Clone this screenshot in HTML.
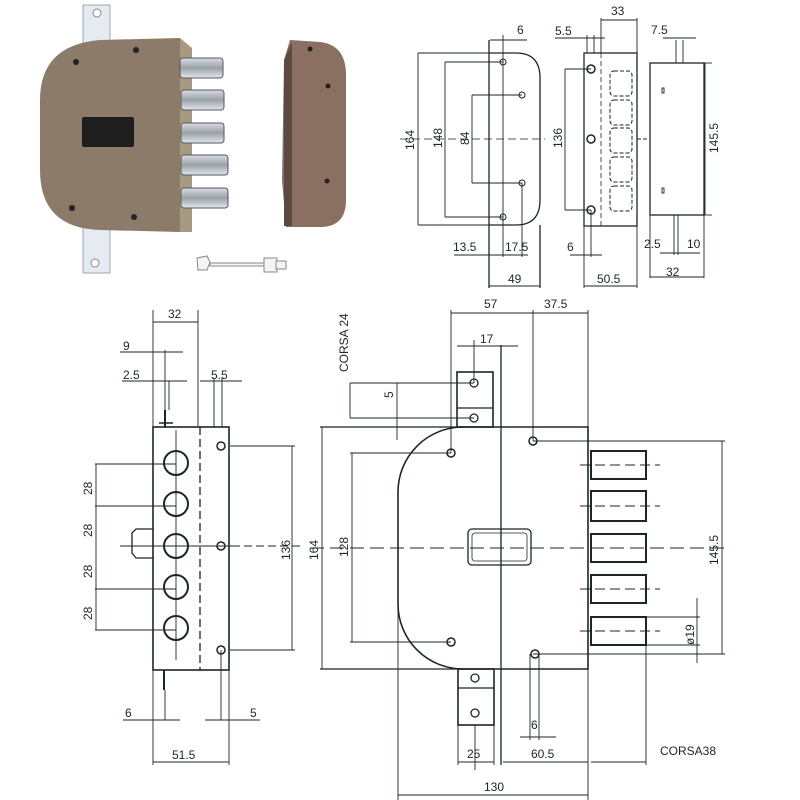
<!DOCTYPE html>
<html><head><meta charset="utf-8"><style>
html,body{margin:0;padding:0;background:#fff}
svg{display:block}
text{font-family:"Liberation Sans",sans-serif;fill:#1c2626;font-size:12px}
</style></head><body>
<svg width="800" height="800" viewBox="0 0 800 800" xmlns="http://www.w3.org/2000/svg">
<defs>
<linearGradient id="bolt" x1="0" y1="0" x2="0" y2="1"><stop offset="0" stop-color="#d8dde2"/><stop offset="0.5" stop-color="#9aa2a8"/><stop offset="1" stop-color="#e4e8ec"/></linearGradient>
</defs>
<!-- PHOTO -->
<rect x="83" y="5" width="27" height="268" fill="#e6eaf2" stroke="#9aa" stroke-width="1"/>
<circle cx="97" cy="13" r="4" fill="#fff" stroke="#888"/>
<circle cx="95" cy="263" r="4" fill="#fff" stroke="#888"/>
<path d="M180 38 L192 48 L192 232 L180 232 Z" fill="#a89a80"/>
<path d="M100 40 L180 38 L180 232 L100 230 Q40 228 40 170 L40 100 Q40 45 100 40 Z" fill="#8c7b68"/>
<g fill="url(#bolt)" stroke="#556" stroke-width="1">
<rect x="180" y="58" width="43" height="20" rx="3"/>
<rect x="181" y="90" width="43" height="20" rx="3"/>
<rect x="181" y="123" width="43" height="20" rx="3"/>
<rect x="181" y="155" width="47" height="20" rx="3"/>
<rect x="181" y="188" width="47" height="20" rx="3"/>
</g>
<rect x="82" y="117" width="52" height="30" fill="#1e1e1e" rx="2"/>
<g fill="#222"><circle cx="76" cy="62" r="3"/><circle cx="136" cy="50" r="3"/><circle cx="72" cy="208" r="3"/><circle cx="134" cy="217" r="3"/></g>
<path d="M290 40 L320 42 Q346 45 346 75 L346 200 Q346 227 320 227 L286 227 L282 180 L284 60 Z" fill="#8a7060"/>
<path d="M284 60 L292 42 L292 226 L284 226 Z" fill="#5a4a40"/>
<g fill="#222"><circle cx="310" cy="49" r="2.5"/><circle cx="328" cy="86" r="2.5"/><circle cx="327" cy="181" r="2.5"/></g>
<!-- key -->
<g stroke="#888" fill="#f4f4f4"><path d="M197 258 L207 256 L210 262 L207 270 L198 270 Z"/><rect x="210" y="263" width="58" height="3"/><rect x="264" y="258" width="13" height="14"/><rect x="276" y="261" width="10" height="8"/></g>

<g stroke="#1c2626" fill="none" stroke-width="1.3">
<!-- TOP VIEW A -->
<path d="M489 53 L516 53 Q540 53 540 78 L540 200 Q540 225 516 225 L489 225"/>
<line x1="489" y1="40" x2="489" y2="288"/>
<line x1="540" y1="225" x2="540" y2="288"/>
<line x1="400" y1="139" x2="545" y2="139" stroke-dasharray="8 4" stroke-width="0.8"/>
<g stroke-width="0.9">
<line x1="418" y1="53" x2="489" y2="53"/><line x1="418" y1="225" x2="489" y2="225"/><line x1="418" y1="53" x2="418" y2="225"/>
<line x1="445" y1="62" x2="503" y2="62"/><line x1="445" y1="217" x2="503" y2="217"/><line x1="445" y1="62" x2="445" y2="217"/>
<line x1="472" y1="95" x2="522" y2="95"/><line x1="472" y1="183" x2="522" y2="183"/><line x1="472" y1="95" x2="472" y2="183"/>
<line x1="503" y1="62" x2="503" y2="257"/><line x1="522" y1="183" x2="522" y2="257"/>
<line x1="454" y1="255" x2="528" y2="255"/>
<line x1="489" y1="286" x2="540" y2="286"/>
<line x1="490" y1="40" x2="527" y2="40"/><line x1="503" y1="35" x2="503" y2="62"/>
</g>
<g stroke-width="1"><circle cx="503" cy="62" r="3"/><circle cx="522" cy="95" r="3"/><circle cx="522" cy="183" r="3"/><circle cx="503" cy="217" r="3"/></g>
<!-- VIEW B -->
<rect x="584" y="53" width="53" height="173"/>
<line x1="601" y1="53" x2="601" y2="226" stroke-dasharray="5 3" stroke-width="0.8"/>
<g stroke-width="1.5"><circle cx="591" cy="69" r="4"/><circle cx="591" cy="139" r="4"/><circle cx="591" cy="210" r="4"/></g>
<g stroke-dasharray="4 2" stroke-width="1"><rect x="610" y="71" width="22" height="25" rx="4"/><rect x="610" y="100" width="22" height="25" rx="4"/><rect x="610" y="128" width="22" height="25" rx="4"/><rect x="610" y="157" width="22" height="25" rx="4"/><rect x="610" y="186" width="22" height="25" rx="4"/></g>
<g stroke-width="0.9">
<line x1="565" y1="69" x2="591" y2="69"/><line x1="565" y1="210" x2="591" y2="210"/><line x1="565" y1="69" x2="565" y2="210"/>
<line x1="584" y1="226" x2="584" y2="288"/><line x1="637" y1="226" x2="637" y2="288"/><line x1="584" y1="286" x2="637" y2="286"/>
<line x1="591" y1="210" x2="591" y2="257"/><line x1="570" y1="255" x2="602" y2="255"/>
<line x1="601" y1="18" x2="601" y2="53"/><line x1="637" y1="18" x2="637" y2="53"/><line x1="601" y1="20" x2="637" y2="20"/>
<line x1="555" y1="38" x2="605" y2="38"/><line x1="587" y1="35" x2="587" y2="53"/><line x1="594" y1="35" x2="594" y2="53"/>
<line x1="637" y1="139" x2="648" y2="139" stroke-dasharray="4 2"/>
</g>
<!-- VIEW C -->
<rect x="650" y="63" width="54" height="152"/>
<g stroke-width="0.9">
<line x1="676" y1="40" x2="676" y2="63"/><line x1="683" y1="40" x2="683" y2="63"/>
<line x1="663" y1="38" x2="696" y2="38"/>
<line x1="674" y1="215" x2="674" y2="255"/><line x1="678" y1="215" x2="678" y2="255"/>
<line x1="660" y1="253" x2="700" y2="253"/>
<line x1="650" y1="215" x2="650" y2="278"/><line x1="704" y1="215" x2="704" y2="278"/><line x1="650" y1="277" x2="704" y2="277"/>
<line x1="704" y1="63" x2="712" y2="63"/><line x1="704" y1="215" x2="712" y2="215"/><line x1="705" y1="63" x2="705" y2="215"/>
<rect x="662" y="88" width="2" height="5"/><rect x="662" y="188" width="2" height="5"/>
</g>

<!-- SIDE VIEW (bottom left) -->
<rect x="153" y="427" width="76" height="243" stroke-width="1.6"/>
<line x1="200" y1="427" x2="200" y2="670" stroke-dasharray="8 4"/>
<path d="M153 529 L136 529 L132 533 L132 553 L136 558 L153 558"/>
<g stroke-width="2"><circle cx="176" cy="463" r="12"/><circle cx="176" cy="504" r="12"/><circle cx="176" cy="546" r="12"/><circle cx="176" cy="587" r="12"/><circle cx="176" cy="628" r="12"/></g>
<g stroke-width="0.9">
<line x1="176" y1="430" x2="176" y2="660"/>
<line x1="95" y1="464" x2="176" y2="464"/><line x1="95" y1="506" x2="176" y2="506"/><line x1="120" y1="546" x2="232" y2="546"/><line x1="95" y1="589" x2="176" y2="589"/><line x1="95" y1="630" x2="176" y2="630"/>
<line x1="96" y1="464" x2="96" y2="630"/>
<line x1="230" y1="446" x2="295" y2="446"/><line x1="230" y1="650" x2="295" y2="650"/><line x1="292" y1="446" x2="292" y2="650"/>
<line x1="232" y1="546" x2="300" y2="546" stroke-dasharray="8 4"/>
<line x1="153" y1="310" x2="153" y2="427"/><line x1="198" y1="310" x2="198" y2="427"/><line x1="153" y1="322" x2="198" y2="322"/>
<line x1="120" y1="352" x2="183" y2="352"/><line x1="165" y1="350" x2="165" y2="410"/>
<line x1="122" y1="381" x2="187" y2="381"/><line x1="169" y1="381" x2="169" y2="410"/>
<line x1="200" y1="381" x2="242" y2="381"/><line x1="214" y1="378" x2="214" y2="427"/><line x1="222" y1="378" x2="222" y2="427"/>
<line x1="165" y1="410" x2="165" y2="427" stroke-width="2"/><line x1="159" y1="423" x2="173" y2="423" stroke-width="1.5"/>
<line x1="164" y1="670" x2="164" y2="690" stroke-width="2"/>
<line x1="123" y1="720" x2="180" y2="720"/><line x1="165" y1="690" x2="165" y2="720"/>
<line x1="205" y1="720" x2="260" y2="720"/><line x1="221" y1="650" x2="221" y2="720"/>
<line x1="153" y1="670" x2="153" y2="765"/><line x1="229" y1="670" x2="229" y2="765"/><line x1="153" y1="762" x2="229" y2="762"/>
</g>
<g stroke-width="1.5"><circle cx="221" cy="446" r="4"/><circle cx="221" cy="546" r="4"/><circle cx="221" cy="650" r="4"/></g>

<!-- FRONT VIEW -->
<rect x="457" y="372" width="36" height="55" stroke-width="1.6"/>
<line x1="457" y1="408" x2="493" y2="408"/>
<rect x="458" y="669" width="36" height="56" stroke-width="1.6"/>
<line x1="458" y1="688" x2="494" y2="688"/>
<circle cx="474" cy="383" r="4"/><circle cx="474" cy="418" r="4"/><circle cx="475" cy="678" r="4"/><circle cx="475" cy="713" r="4"/>
<path d="M463 427 L588 427 L588 669 L463 669 A65 65 0 0 1 398 604 L398 492 A65 65 0 0 1 463 427" stroke-width="1.6"/>
<line x1="320" y1="427" x2="463" y2="427"/><line x1="320" y1="669" x2="463" y2="669"/>
<line x1="501" y1="345" x2="501" y2="765"/>
<g stroke-width="2"><rect x="591" y="451" width="55" height="28"/><rect x="591" y="491" width="55" height="30"/><rect x="591" y="534" width="55" height="28"/><rect x="591" y="575" width="55" height="28"/><rect x="591" y="617" width="55" height="28"/></g>
<g stroke-width="1"><line x1="580" y1="465" x2="660" y2="465" stroke-dasharray="10 5"/><line x1="580" y1="506" x2="660" y2="506" stroke-dasharray="10 5"/><line x1="580" y1="589" x2="660" y2="589" stroke-dasharray="10 5"/><line x1="580" y1="631" x2="660" y2="631" stroke-dasharray="10 5"/></g>
<line x1="310" y1="548" x2="730" y2="548" stroke-dasharray="14 6" stroke-width="1"/>
<rect x="468" y="529" width="63" height="36" rx="4"/><rect x="472" y="533" width="55" height="28" rx="3" stroke-width="0.8"/>
<g stroke-width="1.5"><circle cx="451" cy="453" r="4"/><circle cx="451" cy="642" r="4"/><circle cx="533" cy="441" r="4"/><circle cx="535" cy="654" r="4"/></g>
<g stroke-width="0.9">
<line x1="322" y1="427" x2="322" y2="669"/>
<line x1="350" y1="453" x2="451" y2="453"/><line x1="350" y1="642" x2="451" y2="642"/><line x1="352" y1="453" x2="352" y2="642"/>
<line x1="350" y1="383" x2="474" y2="383"/><line x1="350" y1="418" x2="474" y2="418"/><line x1="350" y1="383" x2="350" y2="418"/><line x1="397" y1="383" x2="397" y2="440"/>
<line x1="451" y1="310" x2="451" y2="453"/><line x1="533" y1="310" x2="533" y2="441"/><line x1="588" y1="310" x2="588" y2="427"/>
<line x1="451" y1="313" x2="588" y2="313"/>
<line x1="457" y1="346" x2="518" y2="346"/><line x1="474" y1="340" x2="474" y2="383"/>
<line x1="533" y1="441" x2="725" y2="441"/><line x1="533" y1="654" x2="725" y2="654"/><line x1="722" y1="441" x2="722" y2="654"/>
<line x1="646" y1="617" x2="700" y2="617"/><line x1="646" y1="645" x2="700" y2="645"/><line x1="697" y1="598" x2="697" y2="663"/>
<line x1="530" y1="654" x2="530" y2="740"/><line x1="539" y1="654" x2="539" y2="740"/><line x1="520" y1="737" x2="556" y2="737"/>
<line x1="458" y1="725" x2="458" y2="765"/><line x1="494" y1="725" x2="494" y2="765"/><line x1="458" y1="762" x2="494" y2="762"/><line x1="475" y1="725" x2="475" y2="770"/>
<line x1="503" y1="762" x2="588" y2="762"/><line x1="588" y1="669" x2="588" y2="800"/><line x1="646" y1="645" x2="646" y2="765"/><line x1="591" y1="762" x2="646" y2="762"/>
<line x1="398" y1="604" x2="398" y2="800"/><line x1="398" y1="795" x2="588" y2="795"/>
</g>
</g>

<!-- TEXT -->
<g>
<text x="517" y="34">6</text><text x="555" y="35">5.5</text><text x="611" y="15">33</text><text x="651" y="34">7.5</text>
<text x="414" y="150" transform="rotate(-90 414 150)">164</text>
<text x="442" y="148" transform="rotate(-90 442 148)">148</text>
<text x="469" y="145" transform="rotate(-90 469 145)">84</text>
<text x="562" y="148" transform="rotate(-90 562 148)">136</text>
<text x="718" y="153" transform="rotate(-90 718 153)">145.5</text>
<text x="453" y="251">13.5</text><text x="505" y="251">17.5</text><text x="567" y="251">6</text><text x="644" y="248">2.5</text><text x="687" y="248">10</text>
<text x="508" y="283">49</text><text x="597" y="283">50.5</text><text x="666" y="276">32</text>
<text x="168" y="318">32</text><text x="123" y="350">9</text><text x="123" y="379">2.5</text><text x="211" y="379">5.5</text>
<text x="92" y="495" transform="rotate(-90 92 495)">28</text>
<text x="92" y="537" transform="rotate(-90 92 537)">28</text>
<text x="92" y="578" transform="rotate(-90 92 578)">28</text>
<text x="92" y="620" transform="rotate(-90 92 620)">28</text>
<text x="290" y="560" transform="rotate(-90 290 560)">136</text>
<text x="318" y="560" transform="rotate(-90 318 560)">164</text>
<text x="125" y="717">6</text><text x="250" y="717">5</text><text x="172" y="759">51.5</text>
<text x="348" y="372" transform="rotate(-90 348 372)">CORSA 24</text>
<text x="393" y="398" transform="rotate(-90 393 398)">5</text>
<text x="484" y="308">57</text><text x="544" y="308">37.5</text><text x="480" y="343">17</text>
<text x="348" y="557" transform="rotate(-90 348 557)">128</text>
<text x="718" y="565" transform="rotate(-90 718 565)">145.5</text>
<text x="694" y="645" transform="rotate(-90 694 645)">ø19</text>
<text x="531" y="729">6</text><text x="467" y="758">25</text><text x="531" y="758">60.5</text><text x="660" y="755" font-size="11">CORSA38</text>
<text x="484" y="791">130</text>
</g>
</svg>
</body></html>
